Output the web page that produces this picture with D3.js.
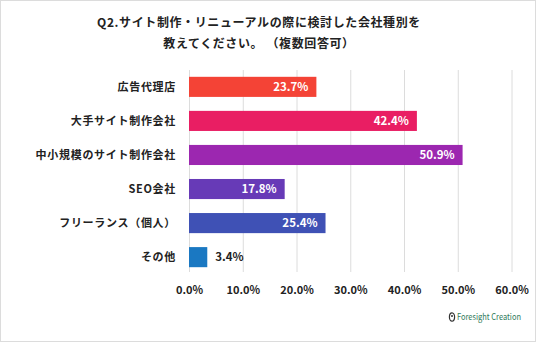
<!DOCTYPE html>
<html>
<head>
<meta charset="utf-8">
<script src="https://cdn.jsdelivr.net/npm/d3@7"></script>
<style>
  html, body { margin: 0; padding: 0; background: #fff; }
  svg { display: block; }
  text { font-family: "Noto Sans CJK JP", "Noto Sans", sans-serif; }
</style>
</head>
<body>
<div id="chart"></div>
<script>
// Q2 : types de société envisagés (réponses multiples)
const categories = ["広告代理店", "大手サイト制作会社", "中小規模のサイト制作会社", "SEO会社", "フリーランス（個人）", "その他"]
const values = [23.7, 42.4, 50.9, 17.8, 25.4, 3.4]
const barColors = ["#f44336", "#e91e63", "#9c27b0", "#673ab7", "#3f51b5", "#1a78c2"]
const xTicks = [0, 10, 20, 30, 40, 50, 60]
const titleLines = ["Q2.サイト制作・リニューアルの際に検討した会社種別を", "教えてください。 （複数回答可）"]

const W = 536, H = 342
const margin = { top: 70, right: 24, bottom: 70, left: 189 }

const svg = d3.select("#chart").append("svg")
  .attr("width", W).attr("height", H)

// Cadre
svg.append("rect")
  .attr("x", 0.5).attr("y", 0.5).attr("width", W - 1).attr("height", H - 1)
  .attr("fill", "#fff").attr("stroke", "#dcdcdc")

// Titre
svg.append("g").selectAll("text")
  .data(titleLines)
  .join("text")
  .attr("x", 259).attr("y", (d, i) => 27 + i * 21)
  .attr("text-anchor", "middle")
  .attr("fill", "#222").attr("font-size", 12).attr("font-weight", 700)
  .attr("letter-spacing", 0.6)
  .style("white-space", "pre")
  .text((d) => d)

const g = svg.append("g").attr("transform", `translate(${margin.left},${margin.top})`)

const x = d3.scaleLinear().domain([0, 60]).range([0, 322.5])
const y = d3.scaleBand().domain(categories).range([0, 204]).paddingInner(0.41).paddingOuter(0.2)

// Grille
g.append("g")
  .call(d3.axisBottom(x).tickValues(xTicks).tickSize(202).tickFormat(""))
  .attr("color", "#dcdcdc")
  .call((s) => s.select(".domain").remove())

// Axe X (libellés)
g.append("g")
  .attr("transform", "translate(0,220)")
  .call(d3.axisBottom(x).tickValues(xTicks).tickSize(0).tickPadding(0).tickFormat((d) => d.toFixed(1) + "%"))
  .call((s) => s.select(".domain").remove())
  .selectAll("text")
  .attr("fill", "#222").attr("font-size", 11).attr("font-weight", 700)
  .attr("font-family", "Liberation Sans, Arial, sans-serif")
  .attr("dy", "0.35em")

// Libellés de catégories
g.append("g").selectAll("text")
  .data(categories)
  .join("text")
  .attr("x", -13)
  .attr("y", (d) => y(d) + y.bandwidth() / 2)
  .attr("dy", "0.36em")
  .attr("text-anchor", "end")
  .attr("fill", "#222").attr("font-size", 11).attr("font-weight", 700)
  .attr("letter-spacing", 0.7)
  .text((d) => d)

// Barres
g.append("g").selectAll("rect")
  .data(values)
  .join("rect")
  .attr("x", x(0))
  .attr("y", (d, i) => y(categories[i]))
  .attr("width", (d) => x(d) - x(0))
  .attr("height", y.bandwidth())
  .attr("fill", (d, i) => barColors[i])

// Valeurs : dans la barre si assez de place, sinon à droite
g.append("g").selectAll("text")
  .data(values)
  .join("text")
  .attr("x", (d) => d > 10 ? x(d) - 8 : x(d) + 8)
  .attr("y", (d, i) => y(categories[i]) + y.bandwidth() / 2)
  .attr("dy", "0.36em")
  .attr("text-anchor", (d) => d > 10 ? "end" : "start")
  .attr("fill", (d) => d > 10 ? "#fff" : "#222")
  .attr("font-size", 11.5).attr("font-weight", 700)
  .attr("font-family", "Liberation Sans, Arial, sans-serif")
  .text((d) => d.toFixed(1) + "%")

// Logo
const logo = svg.append("g").attr("transform", "translate(452,317)")
logo.append("ellipse").attr("cx", 0).attr("cy", 0).attr("rx", 2.6).attr("ry", 4.2)
  .attr("fill", "#fff").attr("stroke", "#333").attr("stroke-width", 1.2)
logo.append("circle").attr("cx", 0).attr("cy", -1).attr("r", 1).attr("fill", "#333")
logo.append("text").attr("x", 5).attr("y", 3.2)
  .attr("fill", "#2f7a5a").attr("font-size", 9)
  .attr("font-family", "Lato, sans-serif")
  .attr("textLength", 64).attr("lengthAdjust", "spacingAndGlyphs")
  .text("Foresight Creation")
</script>
</body>
</html>
